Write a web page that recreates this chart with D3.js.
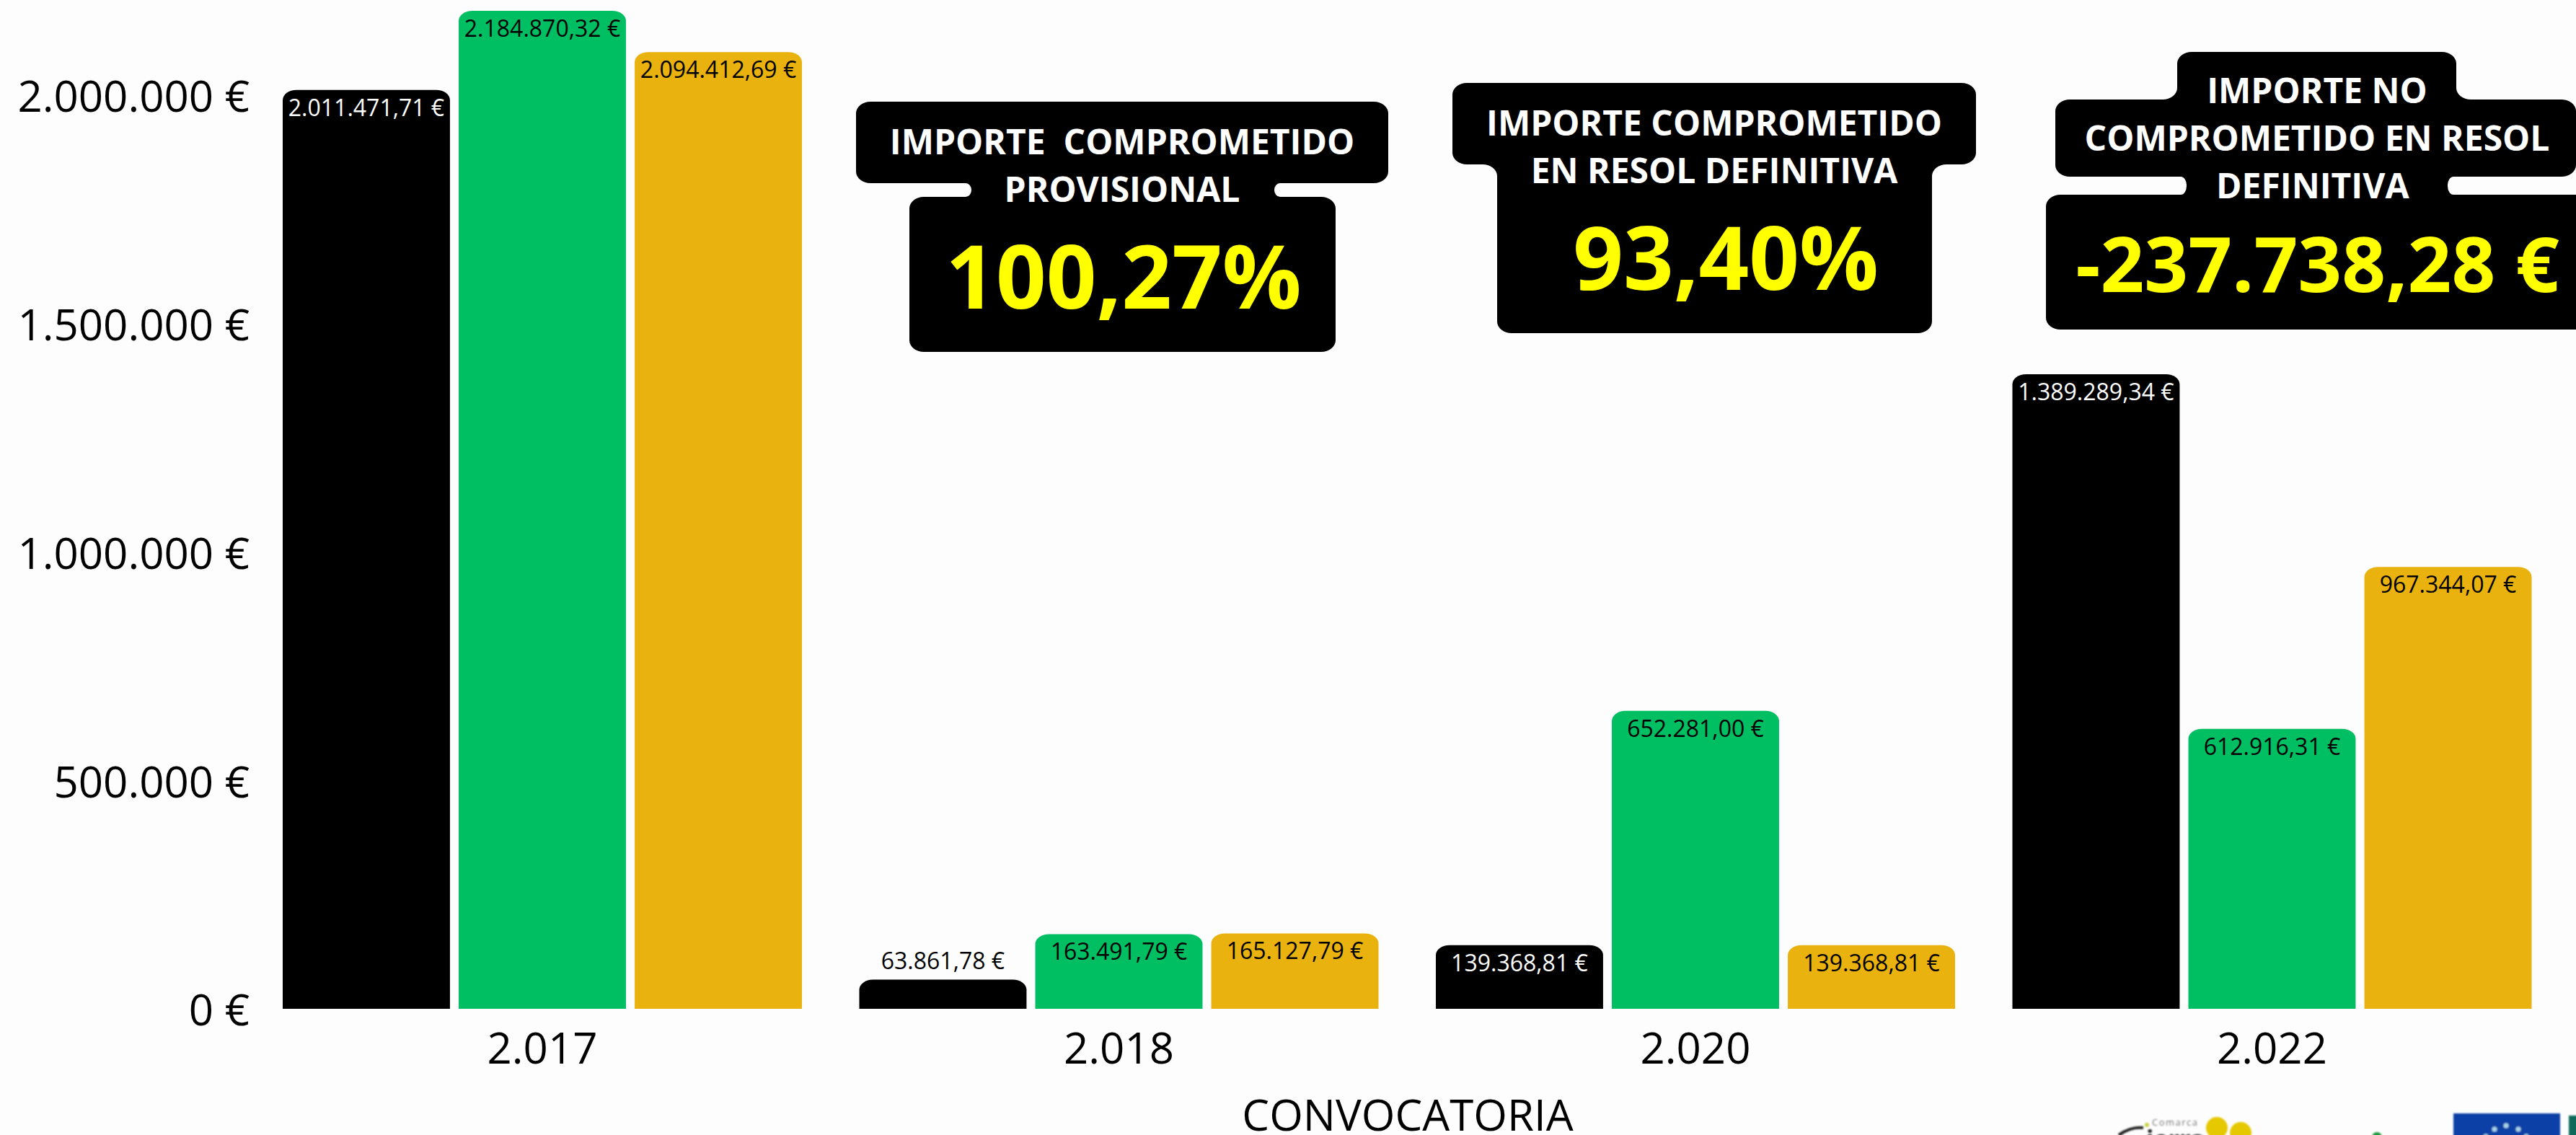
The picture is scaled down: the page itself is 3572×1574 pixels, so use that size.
<!DOCTYPE html>
<html>
<head>
<meta charset="utf-8">
<script src="https://cdn.jsdelivr.net/npm/d3@7"></script>
<style>
  html, body { margin: 0; padding: 0; background: #fdfdfd; }
  svg { display: block; }
  text { font-family: "Open Sans", sans-serif; white-space: pre; }
</style>
</head>
<body>
<div id="chart"></div>
<script>
var convocatorias = ['2.017', '2.018', '2.020', '2.022'],
  seriesNames = ['provisional', 'definitiva', 'pagado'],
  provisional = [2011471.71, 63861.78, 139368.81, 1389289.34],
  definitiva = [2184870.32, 163491.79, 652281.00, 612916.31],
  pagado = [2094412.69, 165127.79, 139368.81, 967344.07],
  yTicks = [0, 500000, 1000000, 1500000, 2000000],
  seriesColors = ['#000000', '#00bf63', '#e9b20e'],
  labelColors = ['#ffffff', '#000000', '#000000'];

var calloutTitles = [
  ['IMPORTE  COMPROMETIDO', 'PROVISIONAL'],
  ['IMPORTE COMPROMETIDO', 'EN RESOL DEFINITIVA'],
  ['IMPORTE NO', 'COMPROMETIDO EN RESOL', 'DEFINITIVA ']
];
var calloutValues = ['100,27%', '93,40%', '-237.738,28 €'];

var width = 3572,
  height = 1574,
  baseY = 1399,
  topY = 132,
  left = 392,
  right = 3510.5;

var svg = d3.select('#chart').append('svg')
  .attr('width', width)
  .attr('height', height)
  .attr('viewBox', '0 0 ' + width + ' ' + height);

svg.append('rect').attr('width', width).attr('height', height).attr('fill', '#fdfdfd');

var es = d3.formatLocale({decimal: ',', thousands: '.', grouping: [3], currency: ['', ' €']}),
  euro0 = es.format(',.0f'),
  euro2 = es.format(',.2f');

var x0 = d3.scaleBand().domain(convocatorias).range([left, right]).paddingInner(0.0994).paddingOuter(0),
  x1 = d3.scaleBand().domain(seriesNames).range([0, x0.bandwidth()]).paddingInner(0.0496).paddingOuter(0),
  y = d3.scaleLinear().domain([0, 2000000]).range([baseY, topY]);

var rows = [];
convocatorias.forEach(function (c, i) {
  [provisional, definitiva, pagado].forEach(function (s, j) {
    rows.push({cat: c, serie: seriesNames[j], value: s[i], idx: j});
  });
});

// bars only have the two top corners rounded
function barPath (d) {
  var bx = x0(d.cat) + x1(d.serie),
    w = x1.bandwidth(),
    t = y(d.value),
    rx = 19, ry = 14;
  return 'M' + bx + ',' + baseY +
    'V' + (t + ry) +
    'A' + rx + ',' + ry + ' 0 0 1 ' + (bx + rx) + ',' + t +
    'H' + (bx + w - rx) +
    'A' + rx + ',' + ry + ' 0 0 1 ' + (bx + w) + ',' + (t + ry) +
    'V' + baseY + 'Z';
}

svg.append('g').selectAll('path')
  .data(rows)
  .enter()
  .append('path')
  .attr('d', barPath)
  .attr('fill', function (d) { return seriesColors[d.idx]; });

// the 63.861 bar is too short, its label sits on top of it
svg.append('g').selectAll('text')
  .data(rows)
  .enter()
  .append('text')
  .attr('x', function (d) { return x0(d.cat) + x1(d.serie) + x1.bandwidth() / 2; })
  .attr('y', function (d) {
    return baseY - y(d.value) < 60 ? y(d.value) - 15 : y(d.value) + 36;
  })
  .attr('text-anchor', 'middle')
  .style('font-size', '32px')
  .attr('fill', function (d) {
    return baseY - y(d.value) < 60 ? '#000' : labelColors[d.idx];
  })
  .text(function (d) { return euro2(d.value) + ' €'; });

var yAxis = svg.append('g')
  .attr('transform', 'translate(' + left + ',0)')
  .call(d3.axisLeft(y).tickValues(yTicks).tickSize(0).tickPadding(46)
    .tickFormat(function (d) { return euro0(d) + ' €'; }));
yAxis.select('.domain').remove();
yAxis.selectAll('text')
  .attr('dy', '0.38em')
  .style('font-family', '"Open Sans", sans-serif')
  .style('font-size', '60px')
  .attr('fill', '#000');

var xAxis = svg.append('g')
  .attr('transform', 'translate(0,' + baseY + ')')
  .call(d3.axisBottom(x0).tickSize(0).tickPadding(33));
xAxis.select('.domain').remove();
xAxis.selectAll('text')
  .style('font-family', '"Open Sans", sans-serif')
  .style('font-size', '60px')
  .attr('fill', '#000');

svg.append('text')
  .attr('x', 1952)
  .attr('y', 1568)
  .attr('text-anchor', 'middle')
  .style('font-size', '60px')
  .text('CONVOCATORIA');

// callouts: outline walked clockwise, every corner rounded, sweep flips on the concave ones
function outline (pts) {
  var n = pts.length, d = '';
  pts.forEach(function (p, i) {
    var a = pts[(i + n - 1) % n],
      b = pts[(i + 1) % n],
      rx = p[2] || 20,
      ry = p[3] || 16,
      inH = a[1] === p[1],
      sx = inH ? p[0] - Math.sign(p[0] - a[0]) * rx : p[0],
      sy = inH ? p[1] : p[1] - Math.sign(p[1] - a[1]) * ry,
      ex = inH ? p[0] : p[0] + Math.sign(b[0] - p[0]) * rx,
      ey = inH ? p[1] + Math.sign(b[1] - p[1]) * ry : p[1],
      cross = (p[0] - a[0]) * (b[1] - p[1]) - (p[1] - a[1]) * (b[0] - p[0]);
    d += (i ? 'L' : 'M') + sx + ',' + sy +
      'A' + rx + ',' + ry + ' 0 0 ' + (cross > 0 ? 1 : 0) + ' ' + ex + ',' + ey;
  });
  return d + 'Z';
}

var calloutShapes = [
  [[1187, 141], [1925, 141], [1925, 254], [1767, 254, 8, 9.5], [1767, 273, 8, 9.5], [1852, 273], [1852, 488],
    [1261, 488], [1261, 273], [1347, 273, 8, 9.5], [1347, 254, 8, 9.5], [1187, 254]],
  [[2014, 115], [2740, 115], [2740, 228], [2679, 228], [2679, 462], [2076, 462], [2076, 228], [2014, 228]],
  [[3019, 72], [3406, 72], [3406, 138], [3572, 138], [3572, 245], [3394, 245, 8, 12], [3394, 270, 8, 12], [3600, 270], [3600, 457],
    [2837, 457], [2837, 270], [3032, 270, 8, 12], [3032, 245, 8, 12], [2850, 245], [2850, 138], [3019, 138]]
];
var calloutTextX = [1556, 2377, 3213],
  calloutBigX = [1558, 2393, 3213.5],
  calloutLineY = [[214, 280], [188, 254], [143, 209, 275]],
  calloutBigY = [428, 402, 405],
  calloutBigSize = [122, 122, 106.5];

calloutShapes.forEach(function (pts, i) {
  var g = svg.append('g');
  g.append('path').attr('d', outline(pts)).attr('fill', '#000');
  g.selectAll('text.line')
    .data(calloutTitles[i])
    .enter()
    .append('text')
    .attr('class', 'line')
    .attr('x', calloutTextX[i])
    .attr('y', function (d, k) { return calloutLineY[i][k]; })
    .attr('text-anchor', 'middle')
    .attr('fill', '#fff')
    .style('font-size', '48px')
    .style('font-weight', 700)
    .text(function (d) { return d; });
  g.append('text')
    .attr('x', calloutBigX[i])
    .attr('y', calloutBigY[i])
    .attr('text-anchor', 'middle')
    .attr('fill', '#ffff00')
    .style('font-size', calloutBigSize[i] + 'px')
    .style('font-weight', 700)
    .text(calloutValues[i]);
});

// logos at the bottom edge, cut off by the picture in the original too
var defs = svg.append('defs');
defs.append('filter').attr('id', 'soft').append('feGaussianBlur').attr('stdDeviation', 1);

var logos = svg.append('g').attr('filter', 'url(#soft)');
logos.append('circle').attr('cx', 3074).attr('cy', 1564).attr('r', 15).attr('fill', '#e6c800');
logos.append('circle').attr('cx', 3107).attr('cy', 1571).attr('r', 15).attr('fill', '#e6c800');
logos.append('text').attr('x', 2984).attr('y', 1561).style('font-size', '13px').style('letter-spacing', '1.5px').attr('fill', '#777').text('Comarca');
logos.append('text').attr('x', 2976).attr('y', 1592).style('font-size', '34px').style('font-weight', 700).attr('fill', '#222').text('ierra');
logos.append('path').attr('d', 'M2938,1574Q2955,1562 2972,1564').attr('fill', 'none').attr('stroke', '#222').attr('stroke-width', 4);
logos.append('circle').attr('cx', 2977).attr('cy', 1560).attr('r', 3).attr('fill', '#c8d040');
logos.append('circle').attr('cx', 3296).attr('cy', 1577).attr('r', 7).attr('fill', '#1f9a3c');
logos.append('rect').attr('x', 3402).attr('y', 1544).attr('width', 148).attr('height', 40).attr('fill', '#0b3fa6');
logos.append('rect').attr('x', 3562).attr('y', 1547).attr('width', 12).attr('height', 30).attr('fill', '#0f6a5a');
logos.selectAll('circle.star')
  .data([[3475, 1561], [3459, 1566], [3492, 1566], [3447, 1576], [3503, 1576]])
  .enter()
  .append('circle')
  .attr('class', 'star')
  .attr('cx', function (d) { return d[0]; })
  .attr('cy', function (d) { return d[1]; })
  .attr('r', 3.5)
  .attr('fill', '#a8d4e6');
</script>
</body>
</html>
